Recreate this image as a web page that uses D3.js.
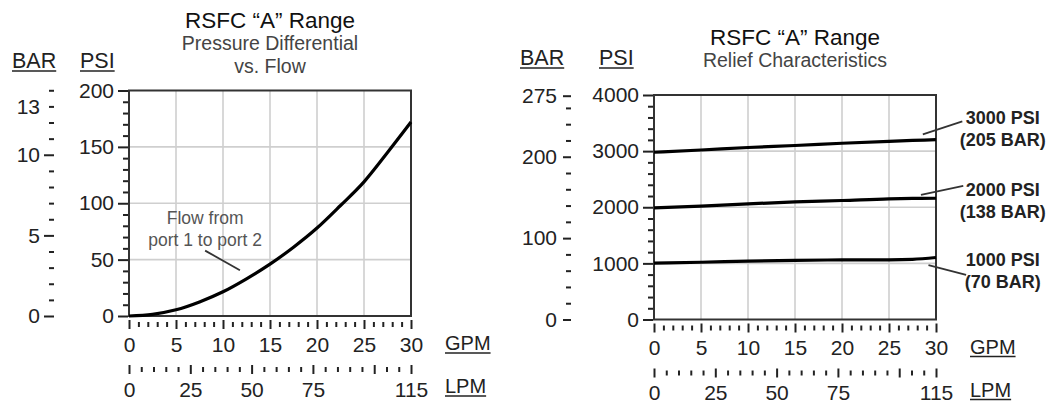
<!DOCTYPE html>
<html>
<head>
<meta charset="utf-8">
<script src="https://cdn.jsdelivr.net/npm/d3@7"></script>
<style>
  body { margin: 0; background: #fff; }
  svg { font-family: "Liberation Sans", Arial, Helvetica, sans-serif; }
</style>
</head>
<body>
<svg id="chart" width="1047" height="403"></svg>
<script>
// flow axes (shared by both charts)
var gpmLabels = [0, 5, 10, 15, 20, 25, 30];
var lpmLabels = [0, 25, 50, 75, 115];
var lpmMajor = [0, 25, 50, 75, 100, 115];

// left chart: pressure differential vs flow
var flowGpm = [0, 2.5, 5, 7.5, 10, 12.5, 15, 17.5, 20, 22.5, 25, 27.5, 30];
var flowPsi = [0, 1.5, 5.5, 12.5, 21.5, 33, 46, 61, 78, 98, 119, 145, 172];
var dpPsiLabels = [0, 50, 100, 150, 200];
var dpBarLabels = [0, 5, 10, 13];
var dpBarMajor = [0, 5, 10];

// right chart: relief characteristics
var reliefGpm = [0, 5, 10, 15, 20, 25, 27.5, 30];
var relief3000 = [2980, 3020, 3065, 3100, 3140, 3175, 3190, 3205];
var relief2000 = [1990, 2020, 2060, 2095, 2120, 2150, 2157, 2160];
var relief1000 = [1005, 1020, 1040, 1055, 1062, 1064, 1072, 1105];
var reliefPsiLabels = [0, 1000, 2000, 3000, 4000];
var reliefBarLabels = [0, 100, 200, 275];

var svg = d3.select("#chart");

function range(a, b, step) {
  var out = [];
  for (var v = a; v <= b + 1e-9; v += step) out.push(Math.round(v * 100) / 100);
  return out;
}

// vertical axis with long labelled ticks and short minor ones
function vAxis(scale, xpos, ticks, major, labels, majorLen, minorLen, pad) {
  var g = svg.append("g").attr("transform", "translate(" + xpos + ",0)");
  g.call(d3.axisLeft(scale).tickValues(ticks).tickSize(majorLen).tickPadding(pad)
    .tickFormat(function (d) { return labels.indexOf(d) >= 0 ? d : ""; }));
  g.select(".domain").remove();
  g.selectAll(".tick line")
    .attr("stroke", "#222").attr("stroke-width", 2)
    .attr("x2", function (d) { return major.indexOf(d) >= 0 ? -majorLen : -minorLen; });
  g.selectAll(".tick text").attr("font-size", 21).attr("fill", "#222")
    .attr("x", -(majorLen + pad));
  return g;
}

function hAxis(scale, ypos, ticks, major, labels) {
  var g = svg.append("g").attr("transform", "translate(0," + ypos + ")");
  g.call(d3.axisBottom(scale).tickValues(ticks).tickSize(9).tickPadding(8)
    .tickFormat(function (d) { return labels.indexOf(d) >= 0 ? d : ""; }));
  g.select(".domain").remove();
  g.selectAll(".tick line")
    .attr("stroke", "#222").attr("stroke-width", 2)
    .attr("y1", function (d) { return major.indexOf(d) >= 0 ? 0 : 2; })
    .attr("y2", function (d) { return major.indexOf(d) >= 0 ? 9 : 7; });
  g.selectAll(".tick text").attr("font-size", 21).attr("fill", "#222");
}

function underlined(x, y, txt, size) {
  var t = svg.append("text").attr("x", x).attr("y", y)
    .attr("font-size", size).attr("fill", "#222").text(txt);
  var w = t.node().getComputedTextLength();
  svg.append("line").attr("x1", x).attr("x2", x + w)
    .attr("y1", y + 3).attr("y2", y + 3)
    .attr("stroke", "#222").attr("stroke-width", 1.6);
}

function drawChart(opt) {
  var x = d3.scaleLinear().domain([0, 30]).range([opt.left, opt.left + 282]);
  var lpm = d3.scaleLinear().domain([0, 115]).range([opt.left, opt.left + 282]);
  var y = d3.scaleLinear().domain([0, opt.psiMax]).range([opt.bottom, opt.top]);
  var yBar = d3.scaleLinear().domain([0, opt.psiMax / opt.psiPerBar]).range([opt.bottom, opt.top]);

  // grid
  svg.append("g").selectAll("line").data([5, 10, 15, 20, 25]).enter().append("line")
    .attr("x1", function (d) { return x(d); }).attr("x2", function (d) { return x(d); })
    .attr("y1", y(opt.psiMax)).attr("y2", y(0))
    .attr("stroke", "#cfcfcf").attr("stroke-width", 1.6);
  svg.append("g").selectAll("line").data(opt.psiLabels.slice(1, -1)).enter().append("line")
    .attr("x1", x(0)).attr("x2", x(30))
    .attr("y1", function (d) { return y(d); }).attr("y2", function (d) { return y(d); })
    .attr("stroke", "#cfcfcf").attr("stroke-width", 1.6);

  // frame
  svg.append("rect").attr("x", x(0)).attr("y", y(opt.psiMax))
    .attr("width", x(30) - x(0)).attr("height", y(0) - y(opt.psiMax))
    .attr("fill", "none").attr("stroke", "#333").attr("stroke-width", 2);

  // curves
  var line = d3.line().curve(d3.curveMonotoneX)
    .x(function (d) { return x(d[0]); }).y(function (d) { return y(d[1]); });
  opt.series.forEach(function (s) {
    svg.append("path").datum(d3.zip(opt.gpm, s))
      .attr("d", line).attr("fill", "none")
      .attr("stroke", "#000").attr("stroke-width", 3.2);
  });

  // axes
  vAxis(y, x(0) - 1, range(0, opt.psiMax, opt.psiMinor), opt.psiLabels, opt.psiLabels, 10, 5, 4);
  vAxis(yBar, opt.barX, opt.barTicks, opt.barMajor, opt.barLabels, opt.barMajorLen, 5, opt.barPad);
  hAxis(x, opt.bottom + 4, range(0, 30, 1), gpmLabels, gpmLabels);
  hAxis(lpm, opt.bottom + 49, range(0, 115, 5), lpmMajor, lpmLabels);

  // unit labels
  underlined(x(30) + 34, opt.bottom + 34, "GPM", 20);
  underlined(x(30) + 34, opt.bottom + 77, "LPM", 20);
  underlined(opt.barLabelX, opt.unitY, "BAR", 21.5);
  underlined(opt.psiLabelX, opt.unitY, "PSI", 21.5);

  // titles
  var cx = (x(0) + x(30)) / 2;
  svg.append("text").attr("x", cx).attr("y", opt.titleY).attr("text-anchor", "middle")
    .attr("font-size", 22.5).attr("fill", "#111").text("RSFC \u201CA\u201D Range");
  opt.subtitle.forEach(function (s, i) {
    svg.append("text").attr("x", cx).attr("y", opt.titleY + 22 + i * 23)
      .attr("text-anchor", "middle").attr("font-size", 19.5).attr("fill", "#444").text(s);
  });

  return {x: x, y: y};
}

// left chart
var L = drawChart({
  left: 129, top: 90.5, bottom: 316, psiMax: 200, psiMinor: 10, psiPerBar: 14.3,
  psiLabels: dpPsiLabels, gpm: flowGpm, series: [flowPsi],
  barX: 54, barTicks: range(0, 14, 1), barMajor: dpBarMajor, barLabels: dpBarLabels,
  barMajorLen: 10, barPad: 4,
  barLabelX: 12, psiLabelX: 80, unitY: 68,
  titleY: 28, subtitle: ["Pressure Differential", "vs. Flow"]
});

// right chart
var R = drawChart({
  left: 654, top: 95, bottom: 319.5, psiMax: 4000, psiMinor: 200, psiPerBar: 14.5,
  psiLabels: reliefPsiLabels, gpm: reliefGpm, series: [relief3000, relief2000, relief1000],
  barX: 571, barTicks: range(0, 260, 20).concat([275]), barMajor: reliefBarLabels, barLabels: reliefBarLabels,
  barMajorLen: 8, barPad: 6,
  barLabelX: 520, psiLabelX: 599, unitY: 65,
  titleY: 45, subtitle: ["Relief Characteristics"]
});

// left annotation
svg.append("line")
  .attr("x1", L.x(8.1)).attr("y1", L.y(58)).attr("x2", L.x(11.8)).attr("y2", L.y(40.5))
  .attr("stroke", "#333").attr("stroke-width", 1.8);
["Flow from", "port 1 to port 2"].forEach(function (s, i) {
  svg.append("text").attr("x", L.x(8.1)).attr("y", L.y(82) + i * 22)
    .attr("text-anchor", "middle").attr("font-size", 17.5).attr("fill", "#555").text(s);
});

// right annotations
var reliefNotes = [
  {x1: 28.6, y1: 3300, x2: 32.8, y2: 3530, ty: 3480, lines: ["3000 PSI", "(205 BAR)"]},
  {x1: 28.4, y1: 2220, x2: 32.9, y2: 2380, ty: 2195, lines: ["2000 PSI", "(138 BAR)"]},
  {x1: 29.2, y1: 970, x2: 33.2, y2: 795, ty: 945, lines: ["1000 PSI", "(70 BAR)"]}
];
reliefNotes.forEach(function (n) {
  svg.append("line")
    .attr("x1", R.x(n.x1)).attr("y1", R.y(n.y1)).attr("x2", R.x(n.x2)).attr("y2", R.y(n.y2))
    .attr("stroke", "#333").attr("stroke-width", 1.8);
  n.lines.forEach(function (s, i) {
    svg.append("text").attr("x", R.x(37.1)).attr("y", R.y(n.ty) + i * 22)
      .attr("text-anchor", "middle").attr("font-size", 18).attr("font-weight", "bold")
      .attr("fill", "#222").text(s);
  });
});
</script>
</body>
</html>
